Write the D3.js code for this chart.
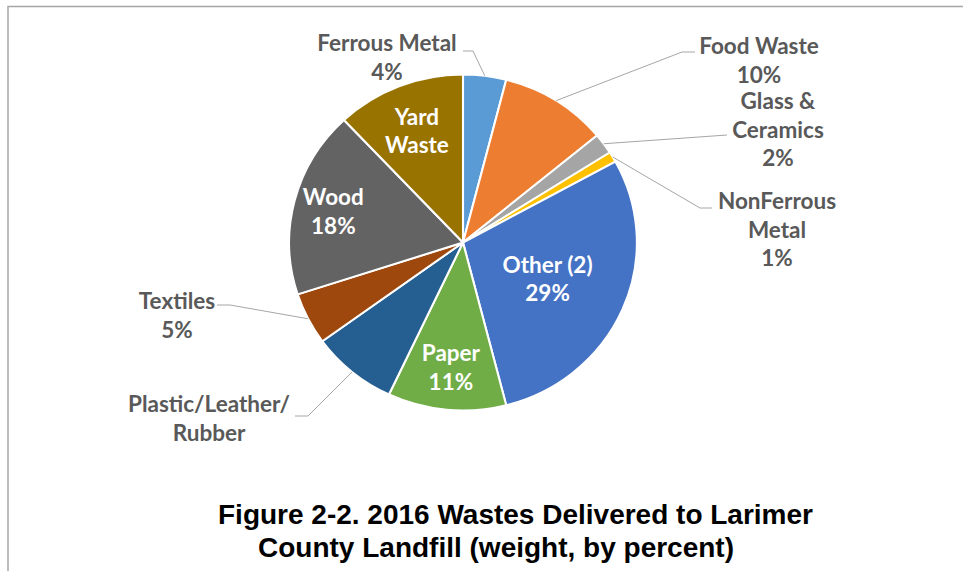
<!DOCTYPE html>
<html>
<head>
<meta charset="utf-8">
<script src="https://cdn.jsdelivr.net/npm/d3@7"></script>
<style>
  body { margin: 0; background: #fff; }
  svg { display: block; }
</style>
</head>
<body>
<script>
// slices, clockwise from 12 o'clock
const categories = ['Ferrous Metal', 'Food Waste', 'Glass & Ceramics', 'NonFerrous Metal', 'Other (2)',
                    'Paper', 'Plastic/Leather/Rubber', 'Textiles', 'Wood', 'Yard Waste']
const values = [4, 10, 2, 1, 29, 11, 8, 5, 18, 12]
const colors = ['#5b9bd5', '#ed7d31', '#a5a5a5', '#ffc000', '#4472c4',
                '#70ad47', '#255e91', '#9e480e', '#636363', '#997300']
const labelLines = [
  ['Ferrous Metal', '4%'],
  ['Food Waste', '10%'],
  ['Glass &', 'Ceramics', '2%'],
  ['NonFerrous', 'Metal', '1%'],
  ['Other (2)', '29%'],
  ['Paper', '11%'],
  ['Plastic/Leather/', 'Rubber'],
  ['Textiles', '5%'],
  ['Wood', '18%'],
  ['Yard', 'Waste']
]
const titleLines = ['Figure 2-2. 2016 Wastes Delivered to Larimer', 'County Landfill (weight, by percent)']

const W = 963, H = 571
const cx = 463, cy = 242.5, R = 168, sx = 1.035
const lineH = 28.5

// label layout (Excel "best fit" placement)
const inside = { 'Other (2)': 0.53, 'Paper': 0.74, 'Wood': 0.77, 'Yard Waste': 0.72 }
const outside = {
  'Ferrous Metal':          { x: 387, y: 42,  leader: [[463, 51], [473, 51]] },
  'Food Waste':             { x: 759, y: 45,  leader: [[695, 52], [682, 52]] },
  'Glass & Ceramics':       { x: 778, y: 100, leader: [[727, 135]] },
  'NonFerrous Metal':       { x: 777, y: 200, leader: [[712, 208], [700, 208]] },
  'Plastic/Leather/Rubber': { x: 209, y: 403, leader: [[295, 416], [308, 416]] },
  'Textiles':               { x: 177, y: 300, leader: [[217, 305], [230, 305]] }
}

const svg = d3.select('body').append('svg').attr('width', W).attr('height', H)

// frame
svg.append('path')
    .attr('d', `M8,${H} V6.5 H${W}`)
    .attr('fill', 'none')
    .attr('stroke', '#a6a6a6')
    .attr('stroke-width', 1.5)

const pie = d3.pie().sort(null).value(d => d)
const arcs = pie(values)
const arc = d3.arc().innerRadius(0).outerRadius(R)

const g = svg.append('g').attr('transform', `translate(${cx},${cy}) scale(${sx},1)`)
g.selectAll('path')
    .data(arcs)
    .enter().append('path')
        .attr('d', arc)
        .attr('fill', (d, i) => colors[i])
        .attr('stroke', '#fff')
        .attr('stroke-width', 2)
        .attr('stroke-linejoin', 'round')

function polar(a, r) { return [cx + r * sx * Math.sin(a), cy - r * Math.cos(a)] }

// leader lines
const line = d3.line()
svg.selectAll('path.leader')
    .data(arcs.filter((d, i) => outside[categories[i]]))
    .enter().append('path')
        .attr('class', 'leader')
        .attr('fill', 'none')
        .attr('stroke', '#a6a6a6')
        .attr('stroke-width', 1)
        .attr('d', d => {
          const o = outside[categories[d.index]]
          const mid = (d.startAngle + d.endAngle) / 2
          return line(o.leader.concat([polar(mid, R)]))
        })

// labels
arcs.forEach((d, i) => {
  const name = categories[i]
  let x, y, fill
  if (inside[name] !== undefined) {
    const mid = (d.startAngle + d.endAngle) / 2;
    [x, y] = polar(mid, R * inside[name])
    y -= lineH * (labelLines[i].length - 1) / 2
    fill = '#fff'
  } else {
    x = outside[name].x
    y = outside[name].y
    fill = '#595959'
  }
  svg.append('text')
      .attr('text-anchor', 'middle')
      .attr('dominant-baseline', 'central')
      .attr('font-family', 'Lato, "Noto Sans", sans-serif')
      .attr('font-weight', 700)
      .attr('font-size', 22.5)
      .attr('fill', fill)
    .selectAll('tspan')
    .data(labelLines[i])
    .enter().append('tspan')
      .attr('x', x)
      .attr('y', (t, j) => y + j * lineH)
      .text(t => t)
})

// title
svg.append('text')
    .attr('font-family', '"Liberation Sans", Arial, sans-serif')
    .attr('font-weight', 700)
    .attr('font-size', 28)
    .attr('fill', '#000')
  .selectAll('tspan')
  .data(titleLines)
  .enter().append('tspan')
    .attr('x', (d, i) => i === 0 ? 218 : 258)
    .attr('y', (d, i) => 524 + i * 33)
    .text(d => d)
</script>
</body>
</html>
